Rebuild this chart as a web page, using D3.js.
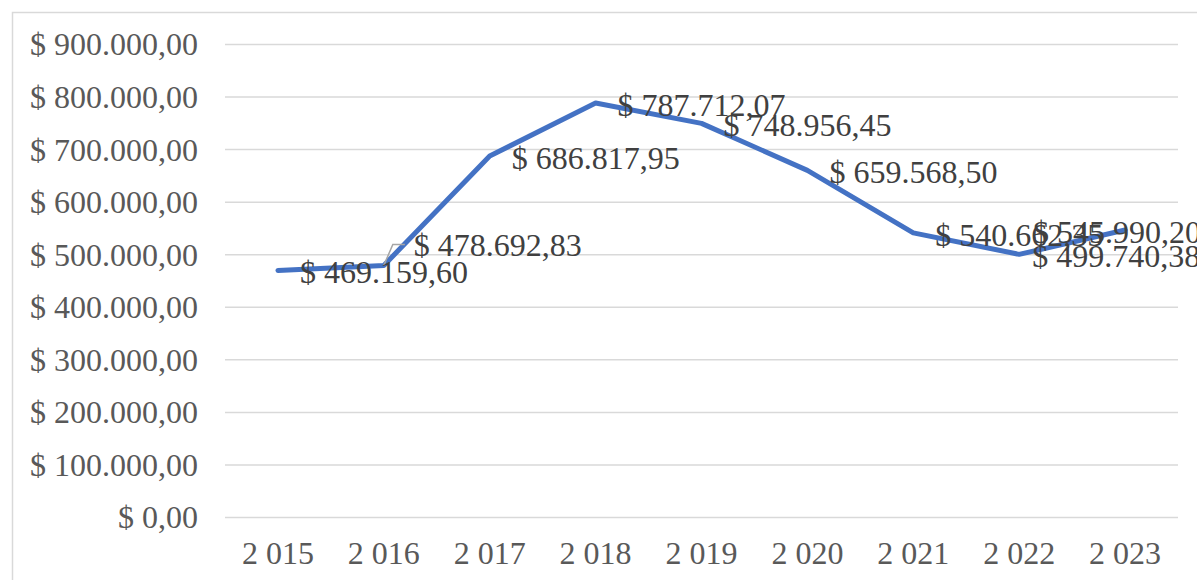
<!DOCTYPE html>
<html>
<head>
<meta charset="utf-8">
<script src="https://cdn.jsdelivr.net/npm/d3@7"></script>
<style>
  body { margin: 0; background: #fff; }
  svg { display: block; }
  text { font-family: "Liberation Serif", "Times New Roman", serif; }
</style>
</head>
<body>
<svg id="chart" width="1197" height="580"></svg>
<script>
const years = [2015, 2016, 2017, 2018, 2019, 2020, 2021, 2022, 2023];
const values = [469159.60, 478692.83, 686817.95, 787712.07, 748956.45, 659568.50, 540662.35, 499740.38, 545990.20];
const yTicks = [0, 100000, 200000, 300000, 400000, 500000, 600000, 700000, 800000, 900000];

const svg = d3.select("#chart");
const margin = { top: 44, right: 19, bottom: 63, left: 225 };
const width = 1197, height = 580;

const loc = d3.formatLocale({ decimal: ",", thousands: ".", grouping: [3], currency: ["$ ", ""] });
const money = loc.format("$,.2f");
const yearFmt = d3.formatLocale({ decimal: ",", thousands: " ", grouping: [3], currency: ["", ""] }).format(",d");

const x = d3.scaleBand()
  .domain(years)
  .range([margin.left, width - margin.right]);

const y = d3.scaleLinear()
  .domain([0, 900000])
  .range([height - margin.bottom, margin.top]);

// chart border
svg.append("rect")
  .attr("x", 12.5).attr("y", 12.5)
  .attr("width", 1200).attr("height", 600)
  .attr("fill", "none")
  .attr("stroke", "#d9d9d9")
  .attr("stroke-width", 1.5);

// gridlines + y labels
svg.append("g")
  .attr("transform", `translate(${margin.left},0)`)
  .call(d3.axisLeft(y).tickValues(yTicks).tickSize(-(width - margin.right - margin.left)).tickFormat(money).tickPadding(27))
  .call(g => g.select(".domain").remove())
  .call(g => g.selectAll(".tick line").attr("stroke", "#d9d9d9").attr("stroke-width", 1.5))
  .call(g => g.selectAll(".tick text")
    .attr("fill", "#595959")
    .attr("font-size", 32)
    .attr("font-family", "Liberation Serif, Times New Roman, serif")
    .attr("dy", "0.34em"));

// x labels
svg.append("g")
  .attr("transform", `translate(0,${height - margin.bottom})`)
  .call(d3.axisBottom(x).tickSize(0).tickFormat(yearFmt).tickPadding(0))
  .call(g => g.select(".domain").remove())
  .call(g => g.selectAll(".tick text")
    .attr("fill", "#595959")
    .attr("font-size", 32)
    .attr("font-family", "Liberation Serif, Times New Roman, serif")
    .attr("dy", "1.48em"));

const cx = d => x(d) + x.bandwidth() / 2;

// line
const line = d3.line()
  .x((d, i) => cx(years[i]))
  .y(d => y(d));

svg.append("path")
  .datum(values)
  .attr("fill", "none")
  .attr("stroke", "#4472c4")
  .attr("stroke-width", 5)
  .attr("stroke-linejoin", "round")
  .attr("stroke-linecap", "round")
  .attr("d", line);

// label placement tweaks (Excel moved a few labels)
const labelShift = { 2016: [30, -20], 2022: [13, 2], 2023: [-92, 2] };

// leader line for 2016 label
const i16 = years.indexOf(2016);
const p16 = [cx(2016), y(values[i16])];
svg.append("path")
  .attr("d", `M${p16[0]},${p16[1]} L${p16[0] + 9},${p16[1] - 21} L${p16[0] + 21},${p16[1] - 21}`)
  .attr("fill", "none")
  .attr("stroke", "#a6a6a6")
  .attr("stroke-width", 1.5);

svg.append("g")
  .selectAll("text")
  .data(values)
  .join("text")
  .attr("x", (d, i) => cx(years[i]) + (labelShift[years[i]] ? labelShift[years[i]][0] : 22))
  .attr("y", (d, i) => y(d) + (labelShift[years[i]] ? labelShift[years[i]][1] : 2))
  .attr("dy", "0.34em")
  .attr("fill", "#404040")
  .attr("font-size", 32)
  .text(d => money(d));
</script>
</body>
</html>
